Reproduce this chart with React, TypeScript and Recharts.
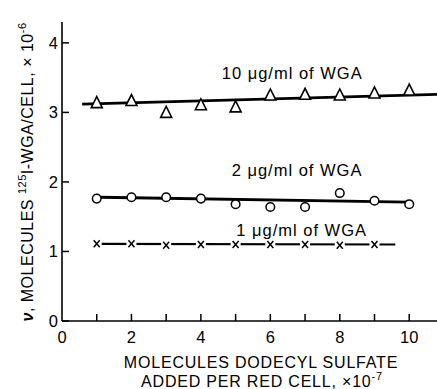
import React from 'react';
import { ComposedChart, XAxis, YAxis, Line, Scatter, ReferenceDot } from 'recharts';

const xValues = [1, 2, 3, 4, 5, 6, 7, 8, 9, 10];
const wga10 = [3.14, 3.17, 3.0, 3.11, 3.08, 3.25, 3.26, 3.25, 3.28, 3.32];
const wga2 = [1.76, 1.78, 1.78, 1.76, 1.68, 1.64, 1.64, 1.84, 1.73, 1.68];
const xValues1 = [1, 2, 3, 4, 5, 6, 7, 8, 9];
const wga1 = [1.11, 1.11, 1.09, 1.1, 1.1, 1.1, 1.1, 1.09, 1.1];

const fit10X = [0.58, 10.8];
const fit10Y = [3.12, 3.26];
const fit2X = [1.1, 9.97];
const fit2Y = [1.78, 1.71];
const fit1X = [1, 9.6];
const fit1Y = [1.11, 1.1];

const xTicks = [0, 1, 2, 3, 4, 5, 6, 7, 8, 9, 10];
const yTicks = [0, 1, 2, 3, 4];

const pts = (xs: number[], ys: number[]) => xs.map((x, i) => ({ x, y: ys[i] }));
const d10 = pts(xValues, wga10);
const d2 = pts(xValues, wga2);
const d1 = pts(xValues1, wga1);
const f10 = pts(fit10X, fit10Y);
const f2 = pts(fit2X, fit2Y);
const f1 = pts(fit1X, fit1Y);

const FONT = '"Liberation Sans", Arial, sans-serif';

const Triangle = (p: any) => {
  const { cx, cy } = p;
  return (
    <polygon
      points={`${cx},${cy - 6} ${cx - 5.5},${cy + 5} ${cx + 5.5},${cy + 5}`}
      fill="#fff"
      stroke="#000"
      strokeWidth={1.6}
    />
  );
};
const Circle = (p: any) => (
  <circle cx={p.cx} cy={p.cy} r={4.3} fill="#fff" stroke="#000" strokeWidth={1.5} />
);
const Cross = (p: any) => {
  const { cx, cy } = p;
  return (
    <g>
      <rect x={cx - 5} y={cy - 5} width={10} height={10} fill="#fff" />
      <line x1={cx - 3} y1={cy - 3.5} x2={cx + 3} y2={cy + 3.5} stroke="#000" strokeWidth={1.5} />
      <line x1={cx + 3} y1={cy - 3.5} x2={cx - 3} y2={cy + 3.5} stroke="#000" strokeWidth={1.5} />
    </g>
  );
};

const XTick = (p: any) => {
  const { x, y, payload } = p;
  const v = payload.value;
  return (
    <g>
      {v !== 0 && <line x1={x} y1={y} x2={x} y2={y - 7} stroke="#000" strokeWidth={1.5} />}
      {v % 2 === 0 && (
        <text x={x} y={y + 22} textAnchor="middle" fontSize={16.5} fontFamily={FONT} fill="#000">
          {v}
        </text>
      )}
    </g>
  );
};
const YTick = (p: any) => {
  const { x, y, payload } = p;
  return (
    <g>
      <line x1={x} y1={y} x2={x + 7} y2={y} stroke="#000" strokeWidth={1.5} />
      <text x={x - 4} y={y + 6} textAnchor="end" fontSize={16.5} fontFamily={FONT} fill="#000">
        {payload.value}
      </text>
    </g>
  );
};

const YTitle = () => (
  <text
    transform="translate(33,172) rotate(-90)"
    textAnchor="middle"
    fontSize={16}
    fontFamily={FONT}
    fill="#000"
    letterSpacing={0.5}
  >
    <tspan fontStyle="italic" fontWeight="bold">ν</tspan>
    <tspan>, MOLECULES </tspan>
    <tspan fontSize={11} dy={-7}>125</tspan>
    <tspan dy={7}>I-WGA/CELL, × 10</tspan>
    <tspan fontSize={11} dy={-7}>-6</tspan>
  </text>
);

const XTitle = () => (
  <g fontFamily={FONT} fontSize={16} fill="#000" letterSpacing={0.8}>
    <text x={261} y={368} textAnchor="middle">MOLECULES DODECYL SULFATE</text>
    <text x={262} y={387} textAnchor="middle">
      <tspan>ADDED PER RED CELL, ×10</tspan>
      <tspan fontSize={11} dy={-7}>-7</tspan>
    </text>
  </g>
);

const lbl = (value: string) => ({
  value,
  position: 'center' as const,
  fontSize: 16.5,
  fontFamily: FONT,
  fill: '#000',
  letterSpacing: 1,
});

export default function App() {
  return (
    <div style={{ position: 'absolute', left: 0, top: 0, background: '#fff' }}>
      <ComposedChart width={437} height={389} margin={{ top: 22, right: 0, bottom: 0, left: 0 }}>
        <XAxis
          type="number"
          dataKey="x"
          domain={[0, 10.8]}
          ticks={xTicks}
          interval={0}
          allowDataOverflow
          height={68}
          tickSize={0}
          tickMargin={0}
          tickLine={false}
          tick={<XTick />}
          axisLine={{ stroke: '#000', strokeWidth: 1.6 }}
          label={{ content: () => <XTitle /> }}
        />
        <YAxis
          type="number"
          dataKey="y"
          domain={[0, 4.3]}
          ticks={yTicks}
          interval={0}
          allowDataOverflow
          width={62}
          tickSize={0}
          tickMargin={0}
          tickLine={false}
          tick={<YTick />}
          axisLine={{ stroke: '#000', strokeWidth: 1.6 }}
          label={{ content: () => <YTitle /> }}
        />
        <Line data={f10} dataKey="y" stroke="#000" strokeWidth={2.8} dot={false} isAnimationActive={false} />
        <Line data={f2} dataKey="y" stroke="#000" strokeWidth={2.8} dot={false} isAnimationActive={false} />
        <Line data={f1} dataKey="y" stroke="#000" strokeWidth={2.2} dot={false} isAnimationActive={false} />
        <Scatter data={d10} dataKey="y" shape={Triangle} isAnimationActive={false} />
        <Scatter data={d2} dataKey="y" shape={Circle} isAnimationActive={false} />
        <Scatter data={d1} dataKey="y" shape={Cross} isAnimationActive={false} />
        <ReferenceDot x={6.63} y={3.57} r={0} fill="none" stroke="none" label={lbl('10 μg/ml of WGA')} />
        <ReferenceDot x={6.77} y={2.17} r={0} fill="none" stroke="none" label={lbl('2 μg/ml of WGA')} />
        <ReferenceDot x={6.9} y={1.31} r={0} fill="none" stroke="none" label={lbl('1 μg/ml of WGA')} />
      </ComposedChart>
    </div>
  );
}
